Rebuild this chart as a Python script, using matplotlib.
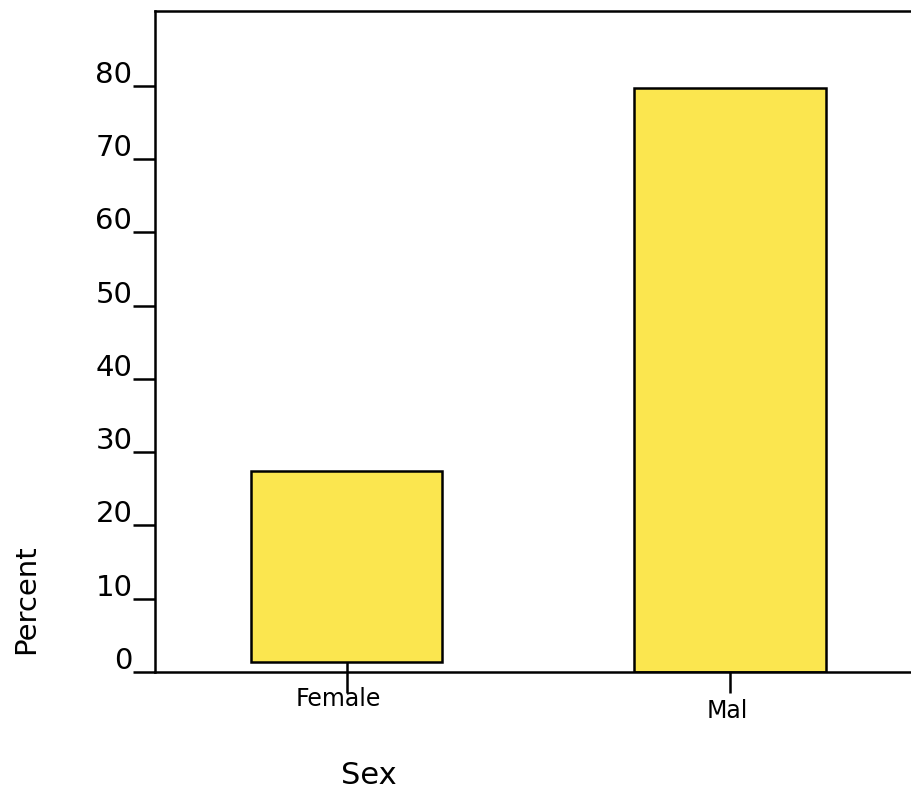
import matplotlib
matplotlib.use("Agg")
import matplotlib.pyplot as plt
from matplotlib.transforms import ScaledTranslation

categories = ["Female", "Mal"]
bar_tops = [27.4, 79.7]
bar_bottoms = [1.4, 0.0]
y_ticks = [0, 10, 20, 30, 40, 50, 60, 70, 80]


def plot_results():
    """Bar chart of percent by sex."""
    plt.rcParams['font.family'] = ['DejaVu Sans']
    fig = plt.figure(figsize=(9.12, 7.93), dpi=100)
    ax = fig.add_axes([155 / 912, 121 / 793, 757 / 912, 661 / 793])

    x = list(range(len(categories)))
    heights = [t - b for t, b in zip(bar_tops, bar_bottoms)]
    ax.bar(x, heights, bottom=bar_bottoms, width=0.5, color='#fbe64f',
           edgecolor='black', linewidth=1.8, zorder=1)
    ax.set_axisbelow(True)

    ax.set_xlim(-0.5, 1.475)
    ax.set_ylim(0, 90.2)

    ax.spines['right'].set_visible(False)
    for side in ['left', 'top', 'bottom']:
        ax.spines[side].set_linewidth(1.8)

    ax.set_yticks(y_ticks)
    ax.set_yticklabels([str(v) for v in y_ticks])
    ax.tick_params(axis='y', direction='out', length=15.8, width=1.8,
                   pad=0.5, labelsize=21)
    for lab in ax.get_yticklabels():
        lab.set_verticalalignment('baseline')
        lab.set_transform(lab.get_transform() + ScaledTranslation(0, 3 / 100, fig.dpi_scale_trans))

    ax.set_xticks(x)
    ax.set_xticklabels(categories)
    ax.tick_params(axis='x', direction='inout', length=30, width=1.8,
                   pad=-3, labelsize=17)
    # Female label sits higher and slightly left, as in the original
    offsets = [(-8, 2), (-2.5, -10)]
    for lab, (dx, dy) in zip(ax.get_xticklabels(), offsets):
        lab.set_transform(lab.get_transform() + ScaledTranslation(dx / 100, dy / 100, fig.dpi_scale_trans))

    fig.text(26 / 912, 1 - 599 / 793, 'Percent', rotation=90, fontsize=21,
             ha='center', va='center')
    fig.text(369 / 912, 1 - 776 / 793, 'Sex', fontsize=22, ha='center', va='center')

    fig.savefig('out.png', dpi=100)


if __name__ == "__main__":
    plot_results()
